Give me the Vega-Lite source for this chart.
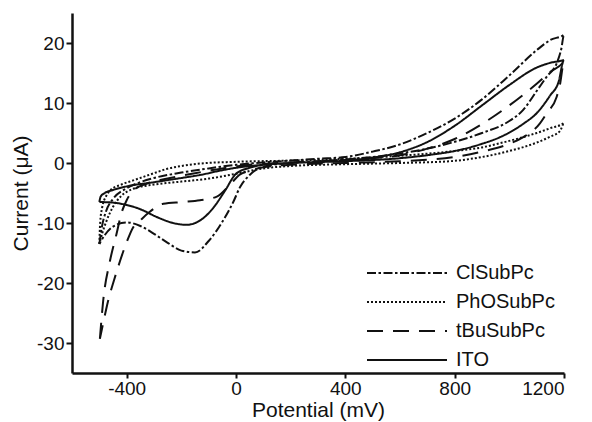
{
"$schema": "https://vega.github.io/schema/vega-lite/v6.json",
"width": 492, "height": 360,
"autosize": {"type": "none"},
"padding": {"left": 72, "top": 13, "right": 28, "bottom": 49},
"background": "white",
"data": {"values": [
{"s":"ClSubPc","i":0,"x":-500,"y":-13.5},{"s":"ClSubPc","i":1,"x":-490,"y":-10.5},{"s":"ClSubPc","i":2,"x":-475,"y":-8},{"s":"ClSubPc","i":3,"x":-450,"y":-6},{"s":"ClSubPc","i":4,"x":-400,"y":-4.2},{"s":"ClSubPc","i":5,"x":-350,"y":-3.2},{"s":"ClSubPc","i":6,"x":-300,"y":-2.5},{"s":"ClSubPc","i":7,"x":-200,"y":-1.6},{"s":"ClSubPc","i":8,"x":-100,"y":-0.9},{"s":"ClSubPc","i":9,"x":0,"y":-0.3},{"s":"ClSubPc","i":10,"x":100,"y":0.1},{"s":"ClSubPc","i":11,"x":200,"y":0.4},{"s":"ClSubPc","i":12,"x":300,"y":0.7},{"s":"ClSubPc","i":13,"x":400,"y":1.0},{"s":"ClSubPc","i":14,"x":500,"y":1.9},{"s":"ClSubPc","i":15,"x":600,"y":3.1},{"s":"ClSubPc","i":16,"x":700,"y":5.0},{"s":"ClSubPc","i":17,"x":800,"y":7.4},{"s":"ClSubPc","i":18,"x":900,"y":10.6},{"s":"ClSubPc","i":19,"x":1000,"y":14.6},{"s":"ClSubPc","i":20,"x":1100,"y":18.8},{"s":"ClSubPc","i":21,"x":1150,"y":20.5},{"s":"ClSubPc","i":22,"x":1200,"y":21.4},
{"s":"ClSubPc","i":23,"x":1190,"y":19},{"s":"ClSubPc","i":24,"x":1175,"y":16.8},{"s":"ClSubPc","i":25,"x":1137,"y":14.4},{"s":"ClSubPc","i":26,"x":1100,"y":12},{"s":"ClSubPc","i":27,"x":1050,"y":8.8},{"s":"ClSubPc","i":28,"x":1000,"y":7.0},{"s":"ClSubPc","i":29,"x":900,"y":5.0},{"s":"ClSubPc","i":30,"x":820,"y":3.8},{"s":"ClSubPc","i":31,"x":700,"y":2.4},{"s":"ClSubPc","i":32,"x":600,"y":1.6},{"s":"ClSubPc","i":33,"x":500,"y":1.0},{"s":"ClSubPc","i":34,"x":400,"y":0.6},{"s":"ClSubPc","i":35,"x":300,"y":0.3},{"s":"ClSubPc","i":36,"x":200,"y":0.0},{"s":"ClSubPc","i":37,"x":100,"y":-0.6},{"s":"ClSubPc","i":38,"x":50,"y":-2.0},{"s":"ClSubPc","i":39,"x":15,"y":-4.0},{"s":"ClSubPc","i":40,"x":-10,"y":-6.5},{"s":"ClSubPc","i":41,"x":-50,"y":-9.8},{"s":"ClSubPc","i":42,"x":-100,"y":-13},{"s":"ClSubPc","i":43,"x":-150,"y":-14.9},{"s":"ClSubPc","i":44,"x":-200,"y":-14.6},{"s":"ClSubPc","i":45,"x":-250,"y":-13.3},{"s":"ClSubPc","i":46,"x":-300,"y":-11.8},{"s":"ClSubPc","i":47,"x":-350,"y":-10.5},{"s":"ClSubPc","i":48,"x":-400,"y":-9.9},{"s":"ClSubPc","i":49,"x":-450,"y":-10.6},{"s":"ClSubPc","i":50,"x":-480,"y":-12},{"s":"ClSubPc","i":51,"x":-500,"y":-13.5},

{"s":"PhOSubPc","i":0,"x":-500,"y":-13.5},{"s":"PhOSubPc","i":1,"x":-497,"y":-10},{"s":"PhOSubPc","i":2,"x":-490,"y":-7.5},{"s":"PhOSubPc","i":3,"x":-475,"y":-5.5},{"s":"PhOSubPc","i":4,"x":-461,"y":-4.6},{"s":"PhOSubPc","i":5,"x":-420,"y":-3.6},{"s":"PhOSubPc","i":6,"x":-376,"y":-2.9},{"s":"PhOSubPc","i":7,"x":-300,"y":-1.7},{"s":"PhOSubPc","i":8,"x":-254,"y":-1.0},{"s":"PhOSubPc","i":9,"x":-200,"y":-0.5},{"s":"PhOSubPc","i":10,"x":-132,"y":-0.1},{"s":"PhOSubPc","i":11,"x":0,"y":0.2},{"s":"PhOSubPc","i":12,"x":200,"y":0.4},{"s":"PhOSubPc","i":13,"x":400,"y":0.7},{"s":"PhOSubPc","i":14,"x":600,"y":1.2},{"s":"PhOSubPc","i":15,"x":800,"y":2.0},{"s":"PhOSubPc","i":16,"x":900,"y":2.6},{"s":"PhOSubPc","i":17,"x":966,"y":3.3},{"s":"PhOSubPc","i":18,"x":1050,"y":4.3},{"s":"PhOSubPc","i":19,"x":1100,"y":5.0},{"s":"PhOSubPc","i":20,"x":1150,"y":5.8},{"s":"PhOSubPc","i":21,"x":1200,"y":6.7},
{"s":"PhOSubPc","i":22,"x":1185,"y":5.3},{"s":"PhOSubPc","i":23,"x":1150,"y":4.4},{"s":"PhOSubPc","i":24,"x":1100,"y":3.4},{"s":"PhOSubPc","i":25,"x":1000,"y":2.0},{"s":"PhOSubPc","i":26,"x":900,"y":1.0},{"s":"PhOSubPc","i":27,"x":783,"y":0.3},{"s":"PhOSubPc","i":28,"x":600,"y":0.0},{"s":"PhOSubPc","i":29,"x":400,"y":-0.2},{"s":"PhOSubPc","i":30,"x":200,"y":-0.5},{"s":"PhOSubPc","i":31,"x":100,"y":-0.9},{"s":"PhOSubPc","i":32,"x":0,"y":-1.8},{"s":"PhOSubPc","i":33,"x":-100,"y":-2.6},{"s":"PhOSubPc","i":34,"x":-200,"y":-3.1},{"s":"PhOSubPc","i":35,"x":-300,"y":-3.6},{"s":"PhOSubPc","i":36,"x":-376,"y":-4.3},{"s":"PhOSubPc","i":37,"x":-420,"y":-5.5},{"s":"PhOSubPc","i":38,"x":-450,"y":-7.3},{"s":"PhOSubPc","i":39,"x":-475,"y":-9.8},{"s":"PhOSubPc","i":40,"x":-490,"y":-11.8},{"s":"PhOSubPc","i":41,"x":-500,"y":-13.5},

{"s":"tBuSubPc","i":0,"x":-498,"y":-29.3},{"s":"tBuSubPc","i":1,"x":-486,"y":-23},{"s":"tBuSubPc","i":2,"x":-461,"y":-16.3},{"s":"tBuSubPc","i":3,"x":-437,"y":-11.8},{"s":"tBuSubPc","i":4,"x":-420,"y":-8.5},{"s":"tBuSubPc","i":5,"x":-400,"y":-6.2},{"s":"tBuSubPc","i":6,"x":-376,"y":-4.6},{"s":"tBuSubPc","i":7,"x":-330,"y":-3.5},{"s":"tBuSubPc","i":8,"x":-250,"y":-2.6},{"s":"tBuSubPc","i":9,"x":-150,"y":-1.7},{"s":"tBuSubPc","i":10,"x":-50,"y":-0.9},{"s":"tBuSubPc","i":11,"x":50,"y":-0.3},{"s":"tBuSubPc","i":12,"x":200,"y":0.1},{"s":"tBuSubPc","i":13,"x":400,"y":0.5},{"s":"tBuSubPc","i":14,"x":600,"y":1.3},{"s":"tBuSubPc","i":15,"x":700,"y":2.4},{"s":"tBuSubPc","i":16,"x":800,"y":4.0},{"s":"tBuSubPc","i":17,"x":900,"y":6.5},{"s":"tBuSubPc","i":18,"x":1000,"y":9.6},{"s":"tBuSubPc","i":19,"x":1100,"y":13.2},{"s":"tBuSubPc","i":20,"x":1150,"y":15.2},{"s":"tBuSubPc","i":21,"x":1200,"y":17},
{"s":"tBuSubPc","i":22,"x":1185,"y":13},{"s":"tBuSubPc","i":23,"x":1173,"y":11},{"s":"tBuSubPc","i":24,"x":1137,"y":8.3},{"s":"tBuSubPc","i":25,"x":1112,"y":6.6},{"s":"tBuSubPc","i":26,"x":1051,"y":4.3},{"s":"tBuSubPc","i":27,"x":1000,"y":3.2},{"s":"tBuSubPc","i":28,"x":900,"y":1.9},{"s":"tBuSubPc","i":29,"x":800,"y":1.0},{"s":"tBuSubPc","i":30,"x":600,"y":0.3},{"s":"tBuSubPc","i":31,"x":400,"y":0.0},{"s":"tBuSubPc","i":32,"x":200,"y":-0.3},{"s":"tBuSubPc","i":33,"x":100,"y":-0.7},{"s":"tBuSubPc","i":34,"x":50,"y":-1.3},{"s":"tBuSubPc","i":35,"x":15,"y":-1.9},{"s":"tBuSubPc","i":36,"x":-20,"y":-3.5},{"s":"tBuSubPc","i":37,"x":-70,"y":-5.6},{"s":"tBuSubPc","i":38,"x":-132,"y":-6.2},{"s":"tBuSubPc","i":39,"x":-193,"y":-6.5},{"s":"tBuSubPc","i":40,"x":-266,"y":-6.8},{"s":"tBuSubPc","i":41,"x":-320,"y":-8.3},{"s":"tBuSubPc","i":42,"x":-351,"y":-9.6},{"s":"tBuSubPc","i":43,"x":-376,"y":-10.7},{"s":"tBuSubPc","i":44,"x":-400,"y":-13.2},{"s":"tBuSubPc","i":45,"x":-424,"y":-16.3},{"s":"tBuSubPc","i":46,"x":-446,"y":-19.5},{"s":"tBuSubPc","i":47,"x":-468,"y":-23},{"s":"tBuSubPc","i":48,"x":-485,"y":-26.5},{"s":"tBuSubPc","i":49,"x":-498,"y":-29.3},

{"s":"ITO","i":0,"x":-500,"y":-6.5},{"s":"ITO","i":1,"x":-495,"y":-5.6},{"s":"ITO","i":2,"x":-480,"y":-5.0},{"s":"ITO","i":3,"x":-450,"y":-4.5},{"s":"ITO","i":4,"x":-400,"y":-3.9},{"s":"ITO","i":5,"x":-300,"y":-3.2},{"s":"ITO","i":6,"x":-200,"y":-2.5},{"s":"ITO","i":7,"x":-132,"y":-2.0},{"s":"ITO","i":8,"x":-50,"y":-1.2},{"s":"ITO","i":9,"x":0,"y":-0.8},{"s":"ITO","i":10,"x":100,"y":-0.3},{"s":"ITO","i":11,"x":200,"y":0.0},{"s":"ITO","i":12,"x":400,"y":0.4},{"s":"ITO","i":13,"x":500,"y":0.9},{"s":"ITO","i":14,"x":600,"y":1.8},{"s":"ITO","i":15,"x":700,"y":3.5},{"s":"ITO","i":16,"x":800,"y":6.2},{"s":"ITO","i":17,"x":900,"y":9.6},{"s":"ITO","i":18,"x":1000,"y":13.0},{"s":"ITO","i":19,"x":1100,"y":15.9},{"s":"ITO","i":20,"x":1150,"y":16.7},{"s":"ITO","i":21,"x":1200,"y":17.2},
{"s":"ITO","i":22,"x":1180,"y":13.5},{"s":"ITO","i":23,"x":1150,"y":11.3},{"s":"ITO","i":24,"x":1100,"y":8.3},{"s":"ITO","i":25,"x":1050,"y":6.5},{"s":"ITO","i":26,"x":966,"y":4.3},{"s":"ITO","i":27,"x":900,"y":3.2},{"s":"ITO","i":28,"x":800,"y":2.0},{"s":"ITO","i":29,"x":700,"y":1.3},{"s":"ITO","i":30,"x":600,"y":0.8},{"s":"ITO","i":31,"x":400,"y":0.3},{"s":"ITO","i":32,"x":200,"y":0.0},{"s":"ITO","i":33,"x":100,"y":-0.3},{"s":"ITO","i":34,"x":50,"y":-0.8},{"s":"ITO","i":35,"x":0,"y":-1.8},{"s":"ITO","i":36,"x":-40,"y":-4.6},{"s":"ITO","i":37,"x":-80,"y":-7.3},{"s":"ITO","i":38,"x":-120,"y":-9.2},{"s":"ITO","i":39,"x":-180,"y":-10.3},{"s":"ITO","i":40,"x":-230,"y":-10},{"s":"ITO","i":41,"x":-290,"y":-9},{"s":"ITO","i":42,"x":-350,"y":-7.7},{"s":"ITO","i":43,"x":-400,"y":-7.0},{"s":"ITO","i":44,"x":-450,"y":-6.6},{"s":"ITO","i":45,"x":-500,"y":-6.5}
]},
"mark": {"type": "line", "strokeWidth": 2, "color": "#111", "interpolate": "monotone"},
"encoding": {
  "x": {"field": "x", "type": "quantitative", "scale": {"domain": [-600, 1200], "nice": false, "zero": false},
        "axis": {"title": "Potential (mV)", "values": [-400, 0, 400, 800, 1200], "format": "d", "tickSize": 5, "labelPadding": 1, "titlePadding": 1,
                 "labelExpr": "replace(datum.label, '−', '-')", "titleFontSize": 21}},
  "y": {"field": "y", "type": "quantitative", "scale": {"domain": [-35, 25], "nice": false, "zero": false},
        "axis": {"title": "Current (μA)", "values": [-30, -20, -10, 0, 10, 20], "format": "d", "labelPadding": 2, "titlePadding": 5,
                 "labelExpr": "replace(datum.label, '−', '-')"}},
  "strokeDash": {"field": "s", "type": "nominal",
        "scale": {"domain": ["ClSubPc", "PhOSubPc", "tBuSubPc", "ITO"], "range": [[9, 2.5, 2.5, 2.5], [2, 2], [16, 10], [1, 0]]},
        "legend": {"orient": "none", "legendX": 324, "legendY": 249, "title": null, "symbolType": "M-4,0H4", "symbolSize": 400,
                   "symbolStrokeWidth": 2, "symbolStrokeColor": "#111", "symbolFillColor": "transparent", "labelFont": "Liberation Sans", "labelFontSize": 20,
                   "labelColor": "#111", "labelOffset": 38, "padding": 0, "rowPadding": 8}},
  "order": {"field": "i", "type": "quantitative"}
},
"config": {
  "view": {"stroke": null},
  "axis": {"grid": false, "domainColor": "#111", "domainWidth": 2.5, "tickColor": "#111", "tickWidth": 2, "tickSize": 6,
           "labelFont": "Liberation Sans", "labelFontSize": 19, "labelColor": "#111",
           "titleFont": "Liberation Sans", "titleFontSize": 21, "titleFontWeight": "normal", "titleColor": "#111"}
}
}
